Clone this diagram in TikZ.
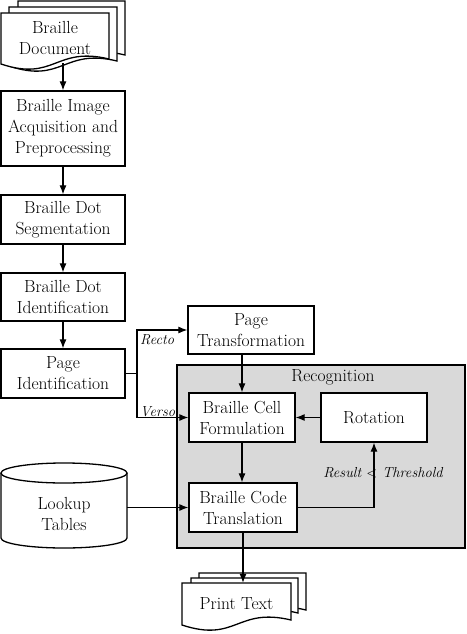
\documentclass[tikz,border=0pt]{standalone}
\usetikzlibrary{arrows.meta}
\definecolor{recoggray}{RGB}{217,217,217}
\tikzset{
 box/.style={draw, line width=1.3pt, fill=white, align=center, inner sep=0pt, font=\fontsize{17.5}{21}\selectfont},
 arr/.style={line width=1.1pt, -{Latex[length=9pt,width=7pt]}},
 ln/.style={line width=1.1pt},
 lbl/.style={font=\fontsize{14.5}{18}\selectfont\itshape, inner sep=0pt},
 txt/.style={align=center, inner sep=0pt, font=\fontsize{17.5}{21}\selectfont},
 page/.style={draw, line width=1.3pt, fill=white},
}
\newcommand\docpage[4]{%
  \draw[page] (#1,#4) -- (#1,#2) -- (#3,#2) -- (#3,#4-5) .. controls ({(#1+#3)/2},#4-18) and ({(#1+#3)/2},#4+18) .. (#1,#4) -- cycle;}
\begin{document}
\begin{tikzpicture}[x=1pt,y=-1pt]
\useasboundingbox (0,0) rectangle (466,634);
% Braille document
\docpage{18}{1}{125}{60}
\docpage{9}{7}{117}{66}
\docpage{1}{13}{109}{64}
\node[txt] (doc) at (55,37.5) {Braille\\Document};
\coordinate (docb) at (63,63.5);
% left column
\node[box, minimum width=124pt, minimum height=75pt] (acq) at (63,128.5) {Braille Image\\Acquisition and\\Preprocessing};
\node[box, minimum width=124pt, minimum height=49pt] (seg) at (63,219.5) {Braille Dot\\Segmentation};
\node[box, minimum width=124pt, minimum height=48pt] (ident) at (63,297) {Braille Dot\\Identification};
\node[box, minimum width=124pt, minimum height=49pt] (pageid) at (63,373.5) {Page\\Identification};
% page transformation
\node[box, minimum width=126pt, minimum height=48pt] (pt) at (251,330) {Page\\Transformation};
% recognition
\node[draw, line width=1.3pt, fill=recoggray, minimum width=288pt, minimum height=183pt, inner sep=0pt] (recog) at (321,456.5) {};
\node[txt] (recoglbl) at (333,377) {Recognition};
\node[box, minimum width=106pt, minimum height=49pt] (bcf) at (242,417.5) {Braille Cell\\Formulation};
\node[box, minimum width=106pt, minimum height=49pt] (rot) at (374,417.5) {Rotation};
\node[box, minimum width=108pt, minimum height=49pt] (bct) at (243,507.5) {Braille Code\\Translation};
% lookup tables
\draw[page] (1,473) -- (1,538) arc[start angle=180, end angle=360, x radius=63pt, y radius=10pt] -- (127,473);
\draw[page] (64,473) ellipse[x radius=63pt, y radius=10pt];
\node[txt] (lookup) at (64,514) {Lookup\\Tables};
\coordinate (lookE) at (127,507.5);
% print text
\docpage{199}{573}{306}{615}
\docpage{191}{578}{298}{618}
\docpage{182}{583}{291}{625}
\node[txt, minimum width=109pt, minimum height=42pt] (print) at (236.5,604) {Print Text};
% connectors
\draw[arr] (docb) -- (acq.north);
\draw[arr] (acq.south) -- (seg.north);
\draw[arr] (seg.south) -- (ident.north);
\draw[arr] (ident.south) -- (pageid.north);
\coordinate (split) at (137,373.5);
\draw[ln] (pageid.east) -- (split);
\draw[arr] (split) |- (pt.west);
\draw[arr] (split) |- (bcf.west);
\node[lbl, anchor=north west] (recto) at (140,334) {Recto};
\node[lbl, anchor=base west] (verso) at (140,416) {Verso};
\draw[arr] (bcf.north |- pt.south) -- (bcf.north);
\draw[arr] (rot.west) -- (bcf.east);
\draw[arr] (bcf.south) -- (bcf.south |- bct.north);
\draw[arr] (bct.east) -| (rot.south);
\node[lbl] (cond) at (383,473) {Result $<$ Threshold};
\draw[arr] (lookE) -- (bct.west);
\draw[arr] (bct.south) -- (bct.south |- print.north);
\end{tikzpicture}
\end{document}
